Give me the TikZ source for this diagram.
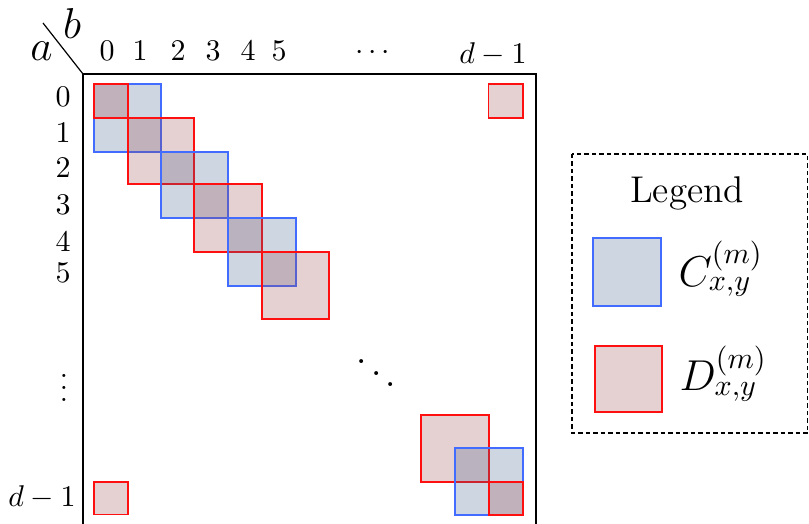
\documentclass[tikz,border=0pt]{standalone}
\usepackage{amsmath}
\definecolor{cline}{RGB}{66,108,255}
\definecolor{dline}{RGB}{255,16,16}
\definecolor{cfill}{RGB}{60,90,140}
\definecolor{dfill}{RGB}{150,70,70}
\tikzset{
  cbox/.style={draw=cline, line width=1.8pt, fill=cfill, fill opacity=0.25, draw opacity=1},
  dbox/.style={draw=dline, line width=1.8pt, fill=dfill, fill opacity=0.25, draw opacity=1},
  frame/.style={line width=1.6pt, line cap=rect},
  idx/.style={inner sep=0pt, scale=3, font=\fontsize{9.8}{11}\selectfont},
  corner/.style={inner sep=0pt, scale=3, font=\fontsize{15.5}{17}\selectfont},
  legendtitle/.style={inner sep=0pt, scale=3, font=\fontsize{12.4}{14}\selectfont},
  legendlabel/.style={inner sep=0pt, scale=3, font=\fontsize{14}{16}\selectfont},
  legendframe/.style={draw, line width=1.3pt, dash pattern=on 4.5pt off 3pt},
}
\begin{document}
\begin{tikzpicture}[x=1pt,y=-1pt]
  \useasboundingbox (0,0) rectangle (809,524);

  % matrix frame (open at the bottom)
  \coordinate (fbl) at (83,524);
  \coordinate (ftl) at (83,74);
  \coordinate (ftr) at (536,74);
  \coordinate (fbr) at (536,524);
  \draw[frame] (fbl) -- (ftl) -- (ftr) -- (fbr);

  % corner: row index a, column index b
  \coordinate (slashA) at (43,23);
  \draw[line width=1.2pt] (slashA) -- (ftl);
  \node[corner] (lblA) at (41.5,51) {$a$};
  \node[corner] (lblB) at (72,24) {$b$};

  % column indices
  \node[idx] (c0) at (107,51) {$0$};
  \node[idx] (c1) at (140,51) {$1$};
  \node[idx] (c2) at (178,51) {$2$};
  \node[idx] (c3) at (213,51) {$3$};
  \node[idx] (c4) at (248,51) {$4$};
  \node[idx] (c5) at (279,51) {$5$};
  \node[idx] (cdots) at (375,53) {$\cdots$};
  \node[idx] (cd) at (493,54.5) {$d-1$};

  % row indices
  \node[idx] (r0) at (63,97) {$0$};
  \node[idx] (r1) at (63,133) {$1$};
  \node[idx] (r2) at (63,168) {$2$};
  \node[idx] (r3) at (63,205) {$3$};
  \node[idx] (r4) at (63,242) {$4$};
  \node[idx] (r5) at (63,273) {$5$};
  \node[idx] (rdots) at (64,379) {$\vdots$};
  \node[idx] (rd) at (42,497) {$d-1$};

  % diagonal continuation
  \node[inner sep=0pt, scale=3.7] (diag) at (376.5,362) {$\ddots$};

  % blocks along the diagonal
  \draw[cbox] (94.3,84.3) rectangle (160.6,152);
  \draw[dbox] (94.3,84.3) rectangle (128.1,118.3);
  \draw[dbox] (128.1,118.3) rectangle (194.3,184.3);
  \draw[cbox] (160.6,152) rectangle (227.7,218);
  \draw[dbox] (194.3,184.3) rectangle (261.7,251.8);
  \draw[cbox] (227.7,218) rectangle (295.7,285.7);
  \draw[dbox] (261.7,251.8) rectangle (329.3,319.3);

  % blocks at the wrap-around corners
  \draw[dbox] (488.5,84.3) rectangle (522.7,118.3);
  \draw[dbox] (94.3,482.3) rectangle (128.3,514.5);
  \draw[dbox] (421,414.7) rectangle (489,482);
  \draw[cbox] (455,448) rectangle (523,515);
  \draw[dbox] (489,482) rectangle (523,515);

  % legend
  \coordinate (lgtl) at (572,154);
  \coordinate (lgbr) at (807.6,433);
  \draw[legendframe] (lgtl) rectangle (lgbr);
  \node[legendtitle, anchor=base] (lgtitle) at (687,202.5) {Legend};
  \draw[cbox] (593,238) rectangle (661,306);
  \node[legendlabel, anchor=base west] (lgC) at (678,286) {$C^{(m)}_{x,y}$};
  \draw[dbox] (595,346) rectangle (662,412);
  \node[legendlabel, anchor=base west] (lgD) at (679,390.5) {$D^{(m)}_{x,y}$};
\end{tikzpicture}
\end{document}
